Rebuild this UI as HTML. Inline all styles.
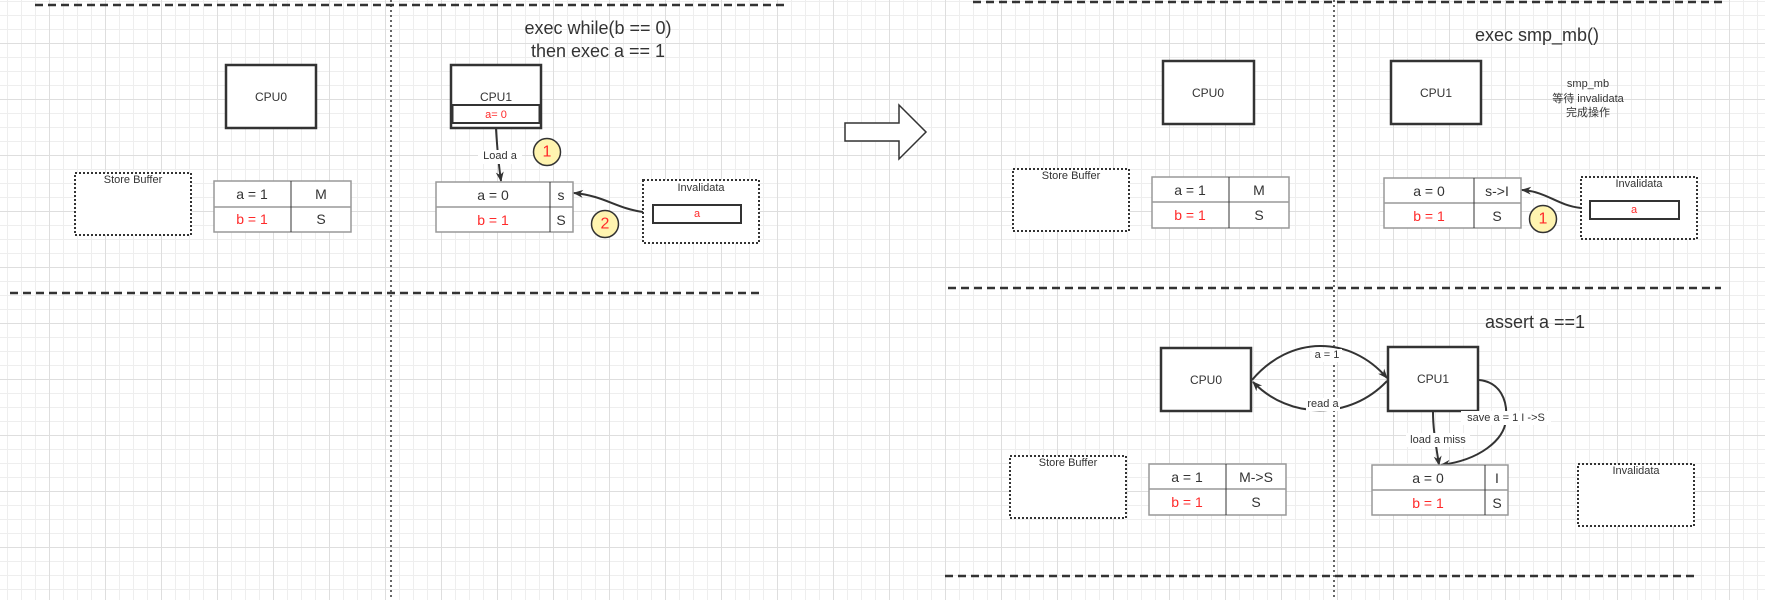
<!DOCTYPE html>
<html><head><meta charset="utf-8"><style>
html,body{margin:0;padding:0;}
body{width:1765px;height:600px;overflow:hidden;background-color:#fff;
background-image:
linear-gradient(to right,#dedede 1px,transparent 1px),
linear-gradient(to bottom,#dedede 1px,transparent 1px),
linear-gradient(to right,#eeeeee 1px,transparent 1px),
linear-gradient(to bottom,#eeeeee 1px,transparent 1px);
background-size:56px 56px,56px 56px,14px 14px,14px 14px;
background-position:49px 0,0 43px,7px 0,0 1px;}
svg{position:absolute;left:0;top:0;}
text{font-family:"Liberation Sans","Noto Sans CJK SC",sans-serif;text-anchor:middle;dominant-baseline:central;fill:#333;}
.t{font-size:14px}.l{font-size:11px}.c{font-size:12px}.r{fill:#ff2a2a}
.tb{fill:#fff;stroke:#999;stroke-width:1.5}
.bx{fill:#fff;stroke:#333;stroke-width:2.5}
.dot{fill:#fff;stroke:#333;stroke-width:2;stroke-dasharray:2 2}
.ln{stroke:#333;stroke-width:2;fill:none}
.num{fill:#fff4b0;stroke:#333;stroke-width:1.5}
</style></head><body>
<svg width="1765" height="600" viewBox="0 0 1765 600">
<defs><marker id="a" markerWidth="10" markerHeight="10" refX="9" refY="5" orient="auto" markerUnits="userSpaceOnUse"><path d="M0,1 L10,5 L0,9 L3,5 Z" fill="#333"/></marker></defs>
<!-- dashed lines -->
<g stroke="#333" stroke-width="2.5" stroke-dasharray="8 5" fill="none">
<line x1="35" y1="5" x2="786" y2="5"/>
<line x1="10" y1="293" x2="762" y2="293"/>
<line x1="973" y1="2" x2="1725" y2="2"/>
<line x1="948" y1="288" x2="1721" y2="288"/>
<line x1="945" y1="576" x2="1697" y2="576"/>
</g>
<g stroke="#333" stroke-width="1.5" stroke-dasharray="2 3"><line x1="391" y1="0" x2="391" y2="600"/><line x1="1334" y1="0" x2="1334" y2="600"/></g>

<!-- Left panel -->
<text x="598" y="28" style="font-size:18px">exec while(b == 0)</text>
<text x="598" y="51" style="font-size:18px">then exec a == 1</text>
<rect class="bx" x="226" y="65" width="90" height="63"/><text class="c" x="271" y="97">CPU0</text>
<rect class="dot" x="75" y="173" width="116" height="62"/><text class="l" x="133" y="180">Store Buffer</text>
<rect class="tb" x="214" y="181" width="137" height="51"/><line x1="214" y1="207" x2="351" y2="207" stroke="#999" stroke-width="1.5"/><line x1="291" y1="181" x2="291" y2="232" stroke="#333" stroke-width="1"/>
<text class="t" x="252" y="194">a = 1</text><text class="t" x="321" y="194">M</text><text class="t r" x="252" y="219">b = 1</text><text class="t" x="321" y="219">S</text>

<rect class="bx" x="451" y="65" width="90" height="63"/><text class="c" x="496" y="97">CPU1</text>
<rect x="452.5" y="105" width="87" height="18" fill="#fff" stroke="#333" stroke-width="2"/><text class="l r" x="496" y="115">a= 0</text>
<path class="ln" d="M496,129 C497,145 498,160 501,181" marker-end="url(#a)"/>
<rect x="478" y="150" width="44" height="14" fill="#fff"/><text class="l" x="500" y="156">Load a</text>
<ellipse class="num" cx="547" cy="152" rx="13.5" ry="13.5"/><text class="r" x="547" y="152" style="font-size:16px">1</text>
<rect class="tb" x="436" y="182" width="137" height="50"/><line x1="436" y1="207" x2="573" y2="207" stroke="#999" stroke-width="1.5"/><line x1="550" y1="182" x2="550" y2="232" stroke="#333" stroke-width="1"/>
<text class="t" x="493" y="195">a = 0</text><text class="t" x="561" y="195">s</text><text class="t r" x="493" y="220">b = 1</text><text class="t" x="561" y="220">S</text>
<ellipse class="num" cx="605" cy="224" rx="13.5" ry="13.5"/><text class="r" x="605" y="224" style="font-size:16px">2</text>
<rect class="dot" x="643" y="180" width="116" height="63"/><text class="l" x="701" y="188">Invalidata</text>
<rect x="653" y="205" width="88" height="18" fill="#fff" stroke="#333" stroke-width="2"/><text class="l r" x="697" y="214">a</text>
<path class="ln" d="M643,212 C615,208 605,196 574,193" marker-end="url(#a)"/>

<!-- big hollow arrow -->
<path d="M845,123 L899,123 L899,105 L926,132 L899,159 L899,141 L845,141 Z" fill="#fff" stroke="#333" stroke-width="1.5"/>

<!-- Top right -->
<text x="1537" y="35" style="font-size:18px">exec smp_mb()</text>
<rect class="bx" x="1163" y="61" width="91" height="63"/><text class="c" x="1208" y="93">CPU0</text>
<rect class="bx" x="1391" y="61" width="90" height="63"/><text class="c" x="1436" y="93">CPU1</text>
<text class="l" x="1588" y="84">smp_mb</text><text class="l" x="1588" y="99">等待 invalidata</text><text class="l" x="1588" y="113">完成操作</text>
<rect class="dot" x="1013" y="169" width="116" height="62"/><text class="l" x="1071" y="176">Store Buffer</text>
<rect class="tb" x="1152" y="177" width="137" height="51"/><line x1="1152" y1="202" x2="1289" y2="202" stroke="#999" stroke-width="1.5"/><line x1="1229" y1="177" x2="1229" y2="228" stroke="#333" stroke-width="1"/>
<text class="t" x="1190" y="190">a = 1</text><text class="t" x="1259" y="190">M</text><text class="t r" x="1190" y="215">b = 1</text><text class="t" x="1259" y="215">S</text>
<rect class="tb" x="1384" y="178" width="137" height="50"/><line x1="1384" y1="203" x2="1521" y2="203" stroke="#999" stroke-width="1.5"/><line x1="1474" y1="178" x2="1474" y2="228" stroke="#333" stroke-width="1"/>
<text class="t" x="1429" y="191">a = 0</text><text class="t" x="1497" y="191">s->I</text><text class="t r" x="1429" y="216">b = 1</text><text class="t" x="1497" y="216">S</text>
<ellipse class="num" cx="1543" cy="219" rx="13.5" ry="13.5"/><text class="r" x="1543" y="219" style="font-size:16px">1</text>
<rect class="dot" x="1581" y="177" width="116" height="62"/><text class="l" x="1639" y="184">Invalidata</text>
<rect x="1590" y="201" width="89" height="18" fill="#fff" stroke="#333" stroke-width="2"/><text class="l r" x="1634" y="210">a</text>
<path class="ln" d="M1581,208 C1556,205 1548,192 1522,190" marker-end="url(#a)"/>

<!-- Bottom right -->
<text x="1535" y="322" style="font-size:18px">assert a ==1</text>
<rect class="bx" x="1161" y="348" width="90" height="63"/><text class="c" x="1206" y="380">CPU0</text>
<rect class="bx" x="1388" y="347" width="90" height="64"/><text class="c" x="1433" y="379">CPU1</text>
<path class="ln" d="M1252,380 C1290,335 1350,335 1387,378" marker-end="url(#a)"/>
<path class="ln" d="M1387,381 C1350,420 1290,420 1253,382" marker-end="url(#a)"/>
<rect x="1312" y="349" width="30" height="13" fill="#fff"/><text class="l" x="1327" y="355">a = 1</text>
<rect x="1306" y="398" width="34" height="13" fill="#fff"/><text class="l" x="1323" y="404">read a</text>
<path class="ln" d="M1479,380 C1500,382 1508,400 1506,420 C1504,440 1480,460 1441,465" marker-end="url(#a)"/>
<path class="ln" d="M1433,412 C1433,430 1436,445 1439,465" marker-end="url(#a)"/>
<rect x="1461" y="411" width="90" height="14" fill="#fff"/><text class="l" x="1506" y="418">save a = 1 I ->S</text>
<rect x="1406" y="433" width="64" height="14" fill="#fff"/><text class="l" x="1438" y="440">load a miss</text>
<rect class="dot" x="1010" y="456" width="116" height="62"/><text class="l" x="1068" y="463">Store Buffer</text>
<rect class="tb" x="1149" y="464" width="137" height="51"/><line x1="1149" y1="489" x2="1286" y2="489" stroke="#999" stroke-width="1.5"/><line x1="1226" y1="464" x2="1226" y2="515" stroke="#333" stroke-width="1"/>
<text class="t" x="1187" y="477">a = 1</text><text class="t" x="1256" y="477">M->S</text><text class="t r" x="1187" y="502">b = 1</text><text class="t" x="1256" y="502">S</text>
<rect class="tb" x="1372" y="465" width="136" height="50"/><line x1="1372" y1="490" x2="1508" y2="490" stroke="#999" stroke-width="1.5"/><line x1="1485" y1="465" x2="1485" y2="515" stroke="#333" stroke-width="1"/>
<text class="t" x="1428" y="478">a = 0</text><text class="t" x="1497" y="478">I</text><text class="t r" x="1428" y="503">b = 1</text><text class="t" x="1497" y="503">S</text>
<rect class="dot" x="1578" y="464" width="116" height="62"/><text class="l" x="1636" y="471">Invalidata</text>
</svg>
</body></html>
